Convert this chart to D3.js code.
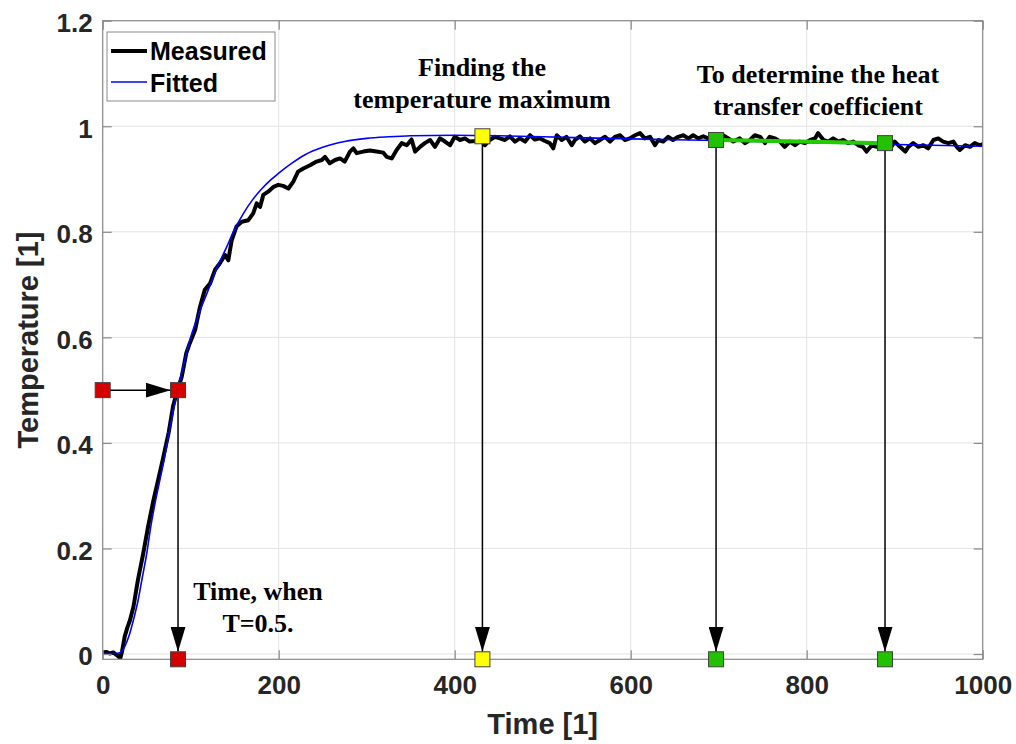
<!DOCTYPE html>
<html>
<head>
<meta charset="utf-8">
<script src="https://cdn.jsdelivr.net/npm/d3@7"></script>
<style>
  html, body { margin: 0; padding: 0; background: #fff; }
  svg { display: block; }
</style>
</head>
<body>
<svg id="chart" width="1016" height="744"></svg>
<script>
// Measured temperature response (normalised)
const measuredTime = [0,4,8,12,16,20,22,25,28,31,35,40,46,52,57.5,63,69,75,80,85,89.8,95,99,105,110.6,116,122,127.6,133,139,142.7,146.6,152,158,165.5,171,175,178.8,182.5,188,194,199.6,205,211,216.6,222,228,235.6,243,249,252.6,258,264,269.7,275,281,284.8,288.6,296,303.7,311,318.9,322.7,328.4,334,339.8,345.5,351,355,360.6,366,372,377.6,383.3,389,394.7,400,406,411.7,417,423,428.5,434.4,440,445.8,451.5,457,462.8,468.5,474,480,485.6,491,497,502.6,508,512,516,521.6,527,533,536.7,542.4,548,553.8,559.4,565,570.8,576.5,582,587.8,593.5,599,605,610.6,616,622,627.6,631.4,637,642.7,648,654,659.8,665.5,671,676.8,682.5,688,694,700,705,711,716.6,724,730,735.6,741,747,752.6,758,764,769.7,775,781,786.7,792,798,804,809.5,813,819,824.5,830,836,841.6,847,853,858.6,864,868,874,879.5,885,890,895,900,906,912,915.5,921,927,932.5,938,944,949.5,955,961,966.7,970.6,974,980,985.6,991,997,1000];
const measuredTemp = [0.003,0.004,0.001,0.003,-0.002,-0.008,0.005,0.033,0.05,0.064,0.09,0.14,0.19,0.245,0.29,0.33,0.374,0.42,0.47,0.5,0.525,0.57,0.589,0.614,0.658,0.69,0.702,0.728,0.74,0.756,0.746,0.784,0.81,0.819,0.822,0.835,0.854,0.847,0.87,0.876,0.885,0.889,0.887,0.882,0.895,0.914,0.92,0.926,0.933,0.936,0.942,0.93,0.936,0.939,0.933,0.952,0.958,0.949,0.952,0.954,0.952,0.95,0.942,0.939,0.955,0.968,0.964,0.975,0.952,0.961,0.968,0.974,0.961,0.977,0.971,0.964,0.98,0.974,0.977,0.971,0.972,0.977,0.964,0.974,0.98,0.977,0.974,0.981,0.971,0.977,0.971,0.983,0.975,0.977,0.972,0.968,0.958,0.983,0.974,0.98,0.964,0.974,0.981,0.971,0.977,0.968,0.974,0.98,0.971,0.98,0.983,0.974,0.977,0.983,0.987,0.977,0.98,0.964,0.974,0.971,0.98,0.974,0.98,0.983,0.977,0.983,0.977,0.981,0.977,0.98,0.976,0.983,0.977,0.971,0.977,0.968,0.974,0.983,0.98,0.968,0.98,0.977,0.971,0.961,0.971,0.964,0.971,0.968,0.974,0.977,0.987,0.974,0.971,0.977,0.971,0.974,0.968,0.971,0.964,0.961,0.952,0.964,0.961,0.968,0.966,0.958,0.971,0.961,0.952,0.961,0.968,0.961,0.964,0.958,0.974,0.977,0.971,0.968,0.971,0.961,0.955,0.964,0.961,0.968,0.964,0.966];

// Fitted model curve
const fittedTime = [0,15,20,25,30,35,40,45,50,55,60,65,70,75,80,85,90,100,110,120,130,140,150,160,170,180,190,200,215,230,250,275,300,325,350,400,450,500,600,700,800,889,1000];
const fittedTemp = [0.001,0.001,0.003,0.014,0.035,0.065,0.1,0.145,0.19,0.245,0.29,0.33,0.37,0.415,0.46,0.5,0.535,0.6,0.648,0.69,0.732,0.768,0.805,0.835,0.86,0.88,0.897,0.911,0.93,0.946,0.96,0.971,0.977,0.98,0.982,0.983,0.982,0.98,0.976,0.973,0.969,0.966,0.962];

// Characteristic points
const halfTemp = 0.5;
const halfTime = 85.6;
const maxTime = 431.5;
const maxTemp = 0.981;
const slopeTime = [697, 889];
const slopeTemp = [0.974, 0.968];

const xTicks = [0, 200, 400, 600, 800, 1000];
const yTicks = [0, 0.2, 0.4, 0.6, 0.8, 1, 1.2];
const xDomain = [0, 1000];
const yDomain = [-0.01, 1.2];

const svg = d3.select("#chart");
const m = { left: 102.7, right: 982.7, top: 20.7, bottom: 659.3 };

const x = d3.scaleLinear().domain(xDomain).range([m.left, m.right]);
const y = d3.scaleLinear().domain(yDomain).range([m.bottom, m.top]);

const sans = "'Liberation Sans', Arial, Helvetica, sans-serif";
const serif = "'Liberation Serif', 'Times New Roman', serif";
const axisGray = "#8a8a8a";
const textDark = "#262626";

// grid
const grid = svg.append("g");
grid.selectAll("line.gx").data(xTicks).join("line")
  .attr("x1", d => x(d)).attr("x2", d => x(d))
  .attr("y1", m.top).attr("y2", m.bottom)
  .attr("stroke", "#e3e3e3").attr("stroke-width", 1);
grid.selectAll("line.gy").data(yTicks).join("line")
  .attr("x1", m.left).attr("x2", m.right)
  .attr("y1", d => y(d)).attr("y2", d => y(d))
  .attr("stroke", "#e3e3e3").attr("stroke-width", 1);

// clip for data lines
svg.append("clipPath").attr("id", "plotClip")
  .append("rect").attr("x", m.left).attr("y", m.top)
  .attr("width", m.right - m.left).attr("height", m.bottom - m.top);

const line = d3.line().x(d => x(d[0])).y(d => y(d[1]));
const fittedLine = d3.line().curve(d3.curveMonotoneX).x(d => x(d[0])).y(d => y(d[1]));

const plot = svg.append("g").attr("clip-path", "url(#plotClip)");

plot.append("path")
  .datum(measuredTime.map((t, i) => [t, measuredTemp[i]]))
  .attr("d", line)
  .attr("fill", "none").attr("stroke", "#000").attr("stroke-width", 4)
  .attr("stroke-linejoin", "round").attr("stroke-linecap", "round");

plot.append("path")
  .datum(fittedTime.map((t, i) => [t, fittedTemp[i]]))
  .attr("d", fittedLine)
  .attr("fill", "none").attr("stroke", "#0000ff").attr("stroke-width", 1.6);

// green segment for heat transfer coefficient
svg.append("line")
  .attr("x1", x(slopeTime[0])).attr("y1", y(slopeTemp[0]))
  .attr("x2", x(slopeTime[1])).attr("y2", y(slopeTemp[1]))
  .attr("stroke", "#22cc00").attr("stroke-width", 4);

// axes box
const axes = svg.append("g");
const xAxisB = d3.axisBottom(x).tickValues(xTicks).tickSize(-9).tickFormat(d3.format("d"));
const xAxisT = d3.axisTop(x).tickValues(xTicks).tickSize(-9).tickFormat("");
const yAxisL = d3.axisLeft(y).tickValues(yTicks).tickSize(-9).tickFormat(d => d === 0 ? "0" : d3.format("")(d));
const yAxisR = d3.axisRight(y).tickValues(yTicks).tickSize(-9).tickFormat("");

function styleAxis(g) {
  g.select(".domain").attr("stroke", axisGray).attr("stroke-width", 1.2);
  g.selectAll(".tick line").attr("stroke", axisGray).attr("stroke-width", 1.2);
  g.selectAll(".tick text").attr("fill", textDark)
    .style("font-family", sans).style("font-weight", "bold").style("font-size", "26px");
}
axes.append("g").attr("transform", `translate(0,${m.bottom})`).call(xAxisB).call(styleAxis)
  .selectAll(".tick text").attr("y", 16).attr("dy", "0.71em");
axes.append("g").attr("transform", `translate(0,${m.top})`).call(xAxisT).call(styleAxis);
axes.append("g").attr("transform", `translate(${m.left},0)`).call(yAxisL).call(styleAxis)
  .selectAll(".tick text").attr("x", -10).attr("dy", "0.42em");
axes.append("g").attr("transform", `translate(${m.right},0)`).call(yAxisR).call(styleAxis);
axes.selectAll(".domain").attr("d", null);
axes.append("rect")
  .attr("x", m.left).attr("y", m.top)
  .attr("width", m.right - m.left).attr("height", m.bottom - m.top)
  .attr("fill", "none").attr("stroke", axisGray).attr("stroke-width", 1.2);

// axis titles
svg.append("text")
  .attr("x", (m.left + m.right) / 2).attr("y", 734)
  .attr("text-anchor", "middle").attr("fill", textDark)
  .style("font-family", sans).style("font-weight", "bold").style("font-size", "29px")
  .text("Time [1]");
svg.append("text")
  .attr("transform", `translate(38,${(m.top + m.bottom) / 2}) rotate(-90)`)
  .attr("text-anchor", "middle").attr("fill", textDark)
  .style("font-family", sans).style("font-weight", "bold").style("font-size", "29px")
  .text("Temperature [1]");

// arrows
const defs = svg.append("defs");
defs.append("marker").attr("id", "arrowHead")
  .attr("viewBox", "0 0 25 15").attr("refX", 25).attr("refY", 7.5)
  .attr("markerWidth", 25).attr("markerHeight", 15)
  .attr("markerUnits", "userSpaceOnUse").attr("orient", "auto")
  .append("path").attr("d", "M0,0 L25,7.5 L0,15 Z").attr("fill", "#000");

const sq = 15;
const arrows = svg.append("g").attr("stroke", "#000").attr("stroke-width", 1.5);
// horizontal arrow at T = 0.5
arrows.append("line")
  .attr("x1", x(0)).attr("y1", y(halfTemp))
  .attr("x2", x(halfTime) - sq / 2).attr("y2", y(halfTemp))
  .attr("marker-end", "url(#arrowHead)");
// vertical arrows down to the time axis
const dropTimes = [halfTime, maxTime, slopeTime[0], slopeTime[1]];
const dropTemps = [halfTemp, maxTemp, slopeTemp[0], slopeTemp[1]];
dropTimes.forEach((t, i) => {
  arrows.append("line")
    .attr("x1", x(t)).attr("y1", y(dropTemps[i]))
    .attr("x2", x(t)).attr("y2", y(yDomain[0]) - sq / 2)
    .attr("marker-end", "url(#arrowHead)");
});

// square markers
const markerTimes = [0, halfTime, halfTime, maxTime, maxTime, slopeTime[0], slopeTime[0], slopeTime[1], slopeTime[1]];
const markerTemps = [halfTemp, halfTemp, yDomain[0], maxTemp, yDomain[0], slopeTemp[0], yDomain[0], slopeTemp[1], yDomain[0]];
const markerColors = ["#d40000", "#d40000", "#d40000", "#ffff00", "#ffff00", "#22c200", "#22c200", "#22c200", "#22c200"];
svg.append("g").selectAll("rect").data(markerTimes).join("rect")
  .attr("x", (d) => x(d) - sq / 2)
  .attr("y", (d, i) => y(markerTemps[i]) - sq / 2)
  .attr("width", sq).attr("height", sq)
  .attr("fill", (d, i) => markerColors[i])
  .attr("stroke", "#404040").attr("stroke-width", 1);

// annotations
function note(lines, cx, y0) {
  const t = svg.append("text").attr("text-anchor", "middle").attr("fill", "#000")
    .style("font-family", serif).style("font-weight", "bold").style("font-size", "26px");
  lines.forEach((s, i) => t.append("tspan").attr("x", cx).attr("y", y0 + i * 32).text(s));
}
note(["Finding the", "temperature maximum"], 482, 76);
note(["To determine the heat", "transfer coefficient"], 818, 83);
note(["Time, when", "T=0.5."], 258, 600);

// legend
const lg = svg.append("g");
lg.append("rect").attr("x", 107).attr("y", 32).attr("width", 168).attr("height", 69)
  .attr("fill", "#fff").attr("stroke", "#8a8a8a").attr("stroke-width", 1);
lg.append("line").attr("x1", 111).attr("x2", 147).attr("y1", 51).attr("y2", 51)
  .attr("stroke", "#000").attr("stroke-width", 4);
lg.append("line").attr("x1", 111).attr("x2", 147).attr("y1", 82).attr("y2", 82)
  .attr("stroke", "#0000ff").attr("stroke-width", 1.6);
lg.append("text").attr("x", 150).attr("y", 60).attr("fill", "#000")
  .style("font-family", sans).style("font-weight", "bold").style("font-size", "25px").text("Measured");
lg.append("text").attr("x", 150).attr("y", 92).attr("fill", "#000")
  .style("font-family", sans).style("font-weight", "bold").style("font-size", "25px").text("Fitted");
</script>
</body>
</html>
